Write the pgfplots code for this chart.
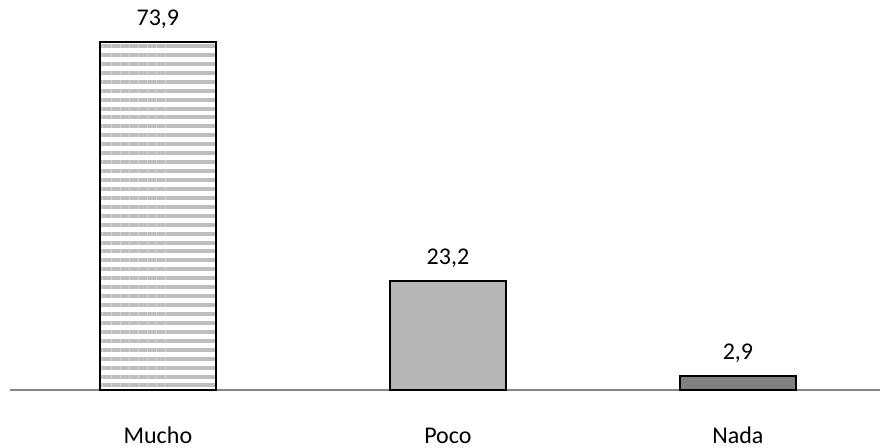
\documentclass[border=0pt]{standalone}
\usepackage{pgfplots}
\pgfplotsset{compat=1.18}
\usepackage{fontspec}
\setmainfont{Carlito}
\usetikzlibrary{patterns.meta}
\definecolor{stripe}{RGB}{190,190,190}
\definecolor{poco}{RGB}{182,182,182}
\definecolor{nada}{RGB}{128,128,128}
\definecolor{axisgray}{RGB}{134,134,134}
\begin{document}
\begin{tikzpicture}
\useasboundingbox (0,0) rectangle (663pt,336pt);
\begin{axis}[
  at={(7.5pt,43.5pt)}, anchor=south west,
  scale only axis, width=652.5pt, height=292.5pt,
  xmin=-0.51, xmax=2.49, ymin=0, ymax=82.8,
  axis x line*=bottom, axis y line=none,
  x axis line style={-, axisgray, line width=0.9pt},
  xtick={0,1,2}, xticklabels={Mucho,Poco,Nada},
  major tick length=0pt,
  xticklabel style={anchor=base, yshift=-40pt},
  font=\fontsize{18pt}{21pt}\selectfont,
  ybar, bar width=87pt, bar shift=0pt,
  nodes near coords,
  every node near coord/.append style={anchor=base, yshift=12.5pt, /pgf/number format/.cd, use comma, fixed, fixed zerofill, precision=1},
  /pgf/number format/assume math mode=true,
  clip=false,
]
\addplot[draw=black, line width=1.4pt, pattern={Lines[angle=0, distance=6.7pt, line width=3pt]}, pattern color=stripe] coordinates {(0,73.9)};
\addplot[draw=black, line width=1.4pt, fill=poco] coordinates {(1,23.2)};
\addplot[draw=black, line width=1.4pt, fill=nada] coordinates {(2,2.9)};
\end{axis}
\end{tikzpicture}
\end{document}
